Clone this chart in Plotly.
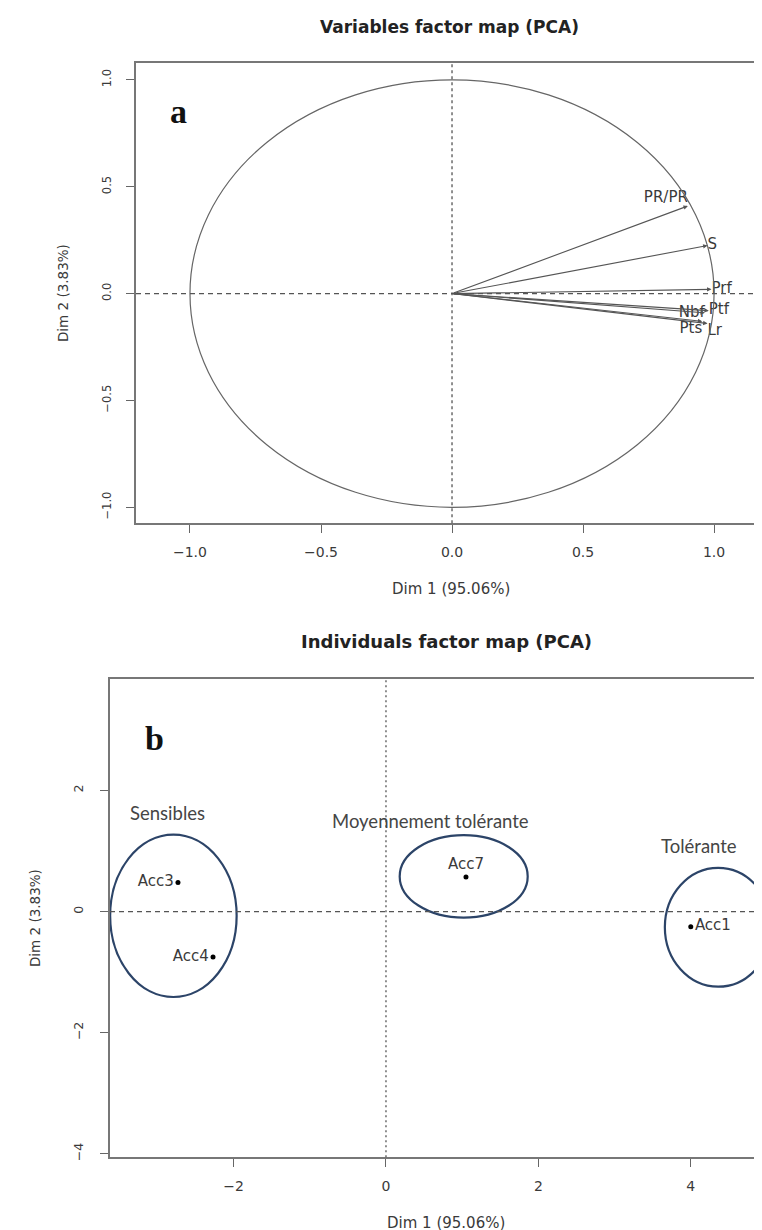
import plotly.graph_objects as go

# ---------------- data ----------------
# Panel a: variables (correlation circle)
var_names = ["PR/PR", "S", "Prf", "Nbf", "Ptf", "Lr", "Pts"]
var_dim1 = [0.90, 0.975, 0.99, 0.965, 0.98, 0.975, 0.955]
var_dim2 = [0.41, 0.225, 0.02, -0.09, -0.08, -0.14, -0.13]

# Panel b: individuals
ind_names = ["Acc1", "Acc3", "Acc4", "Acc7"]
ind_dim1 = [4.0, -2.73, -2.27, 1.05]
ind_dim2 = [-0.25, 0.48, -0.75, 0.57]

# groups drawn as ellipses (centre / half-axes in Dim units)
group_names = ["Sensibles", "Moyennement tolérante", "Tolérante"]
group_cx = [-2.79, 1.02, 4.36]
group_cy = [-0.07, 0.58, -0.26]
group_rx = [0.83, 0.84, 0.70]
group_ry = [1.34, 0.68, 0.98]

# tick labels
a_ticks = [-1.0, -0.5, 0.0, 0.5, 1.0]
a_ticktext = ["−1.0", "−0.5", "0.0", "0.5", "1.0"]
b_xticks = [-2, 0, 2, 4]
b_xticktext = ["−2", "0", "2", "4"]
b_yticks = [-4, -2, 0, 2]
b_yticktext = ["−4", "−2", "0", "2"]

# ---------------- style / layout ----------------
W, H = 762, 1230
FONT = "DejaVu Sans"
TXT = "#3a3a3a"
GRAY = "#777777"
ELL = "#2c4468"

var_textpos = ["top left", "middle right", "middle right", "middle left",
               "middle right", "bottom right", "bottom left"]
ind_textpos = ["middle right", "middle left", "middle left", "top center"]
group_label_pos = [(-2.87, 1.62), (0.58, 1.49), (4.11, 1.08)]


def px_x(p):
    return p / W


def px_y(p):
    return (H - p) / H


fig = go.Figure()

# ----- panel a -----
fig.add_trace(go.Scatter(
    x=var_dim1, y=var_dim2, mode="text", text=var_names,
    textposition=var_textpos,
    textfont=dict(family=FONT, size=15, color=TXT),
    xaxis="x", yaxis="y", hoverinfo="skip", showlegend=False))

annotations = []
for n, x, y in zip(var_names, var_dim1, var_dim2):
    annotations.append(dict(
        x=x, y=y, ax=0, ay=0, xref="x", yref="y", axref="x", ayref="y",
        text="", showarrow=True, arrowhead=2, arrowsize=0.8, arrowwidth=1.1,
        arrowcolor="#555555"))

shapes = [
    dict(type="circle", xref="x", yref="y", x0=-1, x1=1, y0=-1, y1=1,
         line=dict(color="#666666", width=1.2)),
    dict(type="line", xref="x", yref="y domain", x0=0, x1=0, y0=0, y1=1,
         line=dict(color="#555555", width=1.3, dash="3px,3px")),
    dict(type="line", xref="x domain", yref="y", x0=0, x1=1, y0=0, y1=0,
         line=dict(color="#555555", width=1.3, dash="5px,4px")),
]

# ----- panel b -----
fig.add_trace(go.Scatter(
    x=ind_dim1, y=ind_dim2, mode="markers+text", text=ind_names,
    textposition=ind_textpos,
    marker=dict(color="black", size=5),
    textfont=dict(family=FONT, size=15, color=TXT),
    xaxis="x2", yaxis="y2", hoverinfo="skip", showlegend=False))

for cx, cy, rx, ry in zip(group_cx, group_cy, group_rx, group_ry):
    shapes.append(dict(type="circle", xref="x2", yref="y2",
                       x0=cx - rx, x1=cx + rx, y0=cy - ry, y1=cy + ry,
                       line=dict(color=ELL, width=2.2)))
shapes += [
    dict(type="line", xref="x2", yref="y2 domain", x0=0, x1=0, y0=0, y1=1,
         line=dict(color="#555555", width=1.3, dash="2px,3px")),
    dict(type="line", xref="x2 domain", yref="y2", x0=0, x1=1, y0=0, y1=0,
         line=dict(color="#555555", width=1.3, dash="5px,4px")),
]

for name, (gx, gy) in zip(group_names, group_label_pos):
    annotations.append(dict(x=gx, y=gy, xref="x2", yref="y2", text=name,
                            showarrow=False,
                            font=dict(family="Lato", size=18.5, color="#454545")))

# titles and axis titles
def paper_text(text, x, y, size, bold=False, angle=0, family=FONT, color=TXT):
    return dict(x=px_x(x), y=px_y(y), xref="paper", yref="paper",
                text=f"<b>{text}</b>" if bold else text, showarrow=False,
                xanchor="center", yanchor="middle", textangle=angle,
                font=dict(family=family, size=size, color=color))

annotations += [
    paper_text("Variables factor map (PCA)", 441, 19, 17, bold=True, color="#222"),
    paper_text("Dim 1 (95.06%)", 443, 583, 15),
    paper_text("Dim 2 (3.83%)", 55, 286, 13.5, angle=-90),
    paper_text("Individuals factor map (PCA)", 438, 636, 18, bold=True, color="#222"),
    paper_text("Dim 1 (95.06%)", 438, 1219, 15),
    paper_text("Dim 2 (3.83%)", 27, 913, 13.5, angle=-90),
    paper_text("a", 170, 104, 34, bold=True, family="Liberation Serif", color="#111"),
    paper_text("b", 146, 733, 34, bold=True, family="Liberation Serif", color="#111"),
]

axis_common = dict(showgrid=False, zeroline=False, showline=True,
                   linecolor=GRAY, linewidth=2, ticks="outside", ticklen=8,
                   tickwidth=1.2, tickcolor="#666666",
                   tickfont=dict(family=FONT, size=14, color=TXT))

fig.update_layout(
    width=W, height=H, autosize=False,
    margin=dict(l=0, r=0, t=0, b=0),
    paper_bgcolor="white", plot_bgcolor="white",
    showlegend=False,
    xaxis=dict(domain=[px_x(128), px_x(759)], range=[-1.206, 1.202],
               tickvals=a_ticks, ticktext=a_ticktext, mirror=True,
               anchor="y", ticklabelstandoff=7, **axis_common),
    yaxis=dict(domain=[px_y(517), px_y(55)], range=[-1.075, 1.08],
               tickvals=a_ticks, ticktext=a_ticktext, mirror=True,
               anchor="x", tickangle=-90, ticklabelstandoff=10,
               **{**axis_common, "tickfont": dict(family=FONT, size=11.5, color=TXT)}),
    xaxis2=dict(domain=[px_x(102), 1.0], range=[-3.622, 5.04],
                tickvals=b_xticks, ticktext=b_xticktext, mirror=True,
                anchor="y2", ticklabelstandoff=7, **axis_common),
    yaxis2=dict(domain=[px_y(1153), px_y(673)], range=[-4.054, 3.84],
                tickvals=b_yticks, ticktext=b_yticktext, mirror=False,
                anchor="x2", tickangle=-90, ticklabelstandoff=12,
                **{**axis_common, "tickfont": dict(family=FONT, size=12.5, color=TXT)}),
    shapes=shapes,
    annotations=annotations,
)

fig.write_html("out.html")
